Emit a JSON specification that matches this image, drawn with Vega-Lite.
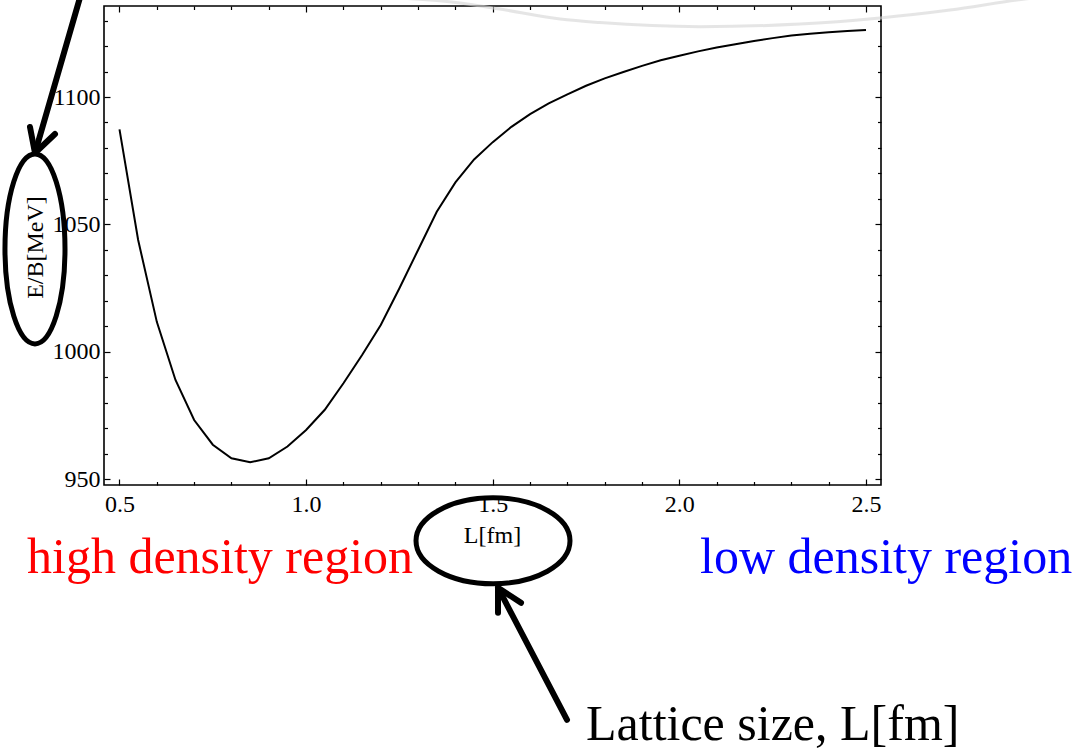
{
  "$schema": "https://vega.github.io/schema/vega-lite/v6.json",
  "width": 777,
  "height": 479,
  "autosize": {"type": "none"},
  "padding": {"left": 104, "top": 6, "right": 194, "bottom": 266},
  "background": "white",
  "config": {
    "view": {"stroke": "black", "strokeWidth": 1.6},
    "font": "Liberation Serif",
    "axis": {
      "labelFont": "Liberation Serif",
      "labelFontSize": 24,
      "labelColor": "black",
      "titleFont": "Liberation Serif",
      "titleFontSize": 24,
      "titleFontWeight": "normal",
      "titleColor": "black",
      "tickColor": "black",
      "tickWidth": 1.2,
      "grid": false,
      "domain": false
    }
  },
  "datasets": {
    "curve": [
      {"L": 0.5, "E": 1087.3}, {"L": 0.55, "E": 1043.9}, {"L": 0.6, "E": 1011.8},
      {"L": 0.65, "E": 989.0}, {"L": 0.7, "E": 973.3}, {"L": 0.75, "E": 963.6},
      {"L": 0.8, "E": 958.3}, {"L": 0.85, "E": 956.7}, {"L": 0.9, "E": 958.3},
      {"L": 0.95, "E": 962.9}, {"L": 1.0, "E": 969.4}, {"L": 1.05, "E": 977.3},
      {"L": 1.1, "E": 987.7}, {"L": 1.15, "E": 998.8}, {"L": 1.2, "E": 1010.6},
      {"L": 1.25, "E": 1025.0}, {"L": 1.3, "E": 1040.0}, {"L": 1.35, "E": 1055.0},
      {"L": 1.4, "E": 1066.5}, {"L": 1.45, "E": 1075.5}, {"L": 1.5, "E": 1082.3},
      {"L": 1.55, "E": 1088.3}, {"L": 1.6, "E": 1093.3}, {"L": 1.65, "E": 1097.5},
      {"L": 1.7, "E": 1101.0}, {"L": 1.75, "E": 1104.4}, {"L": 1.8, "E": 1107.3},
      {"L": 1.85, "E": 1109.8}, {"L": 1.9, "E": 1112.2}, {"L": 1.95, "E": 1114.4},
      {"L": 2.0, "E": 1116.2}, {"L": 2.05, "E": 1117.9}, {"L": 2.1, "E": 1119.4},
      {"L": 2.15, "E": 1120.7}, {"L": 2.2, "E": 1122.0}, {"L": 2.25, "E": 1123.1},
      {"L": 2.3, "E": 1124.1}, {"L": 2.35, "E": 1124.8}, {"L": 2.4, "E": 1125.4},
      {"L": 2.45, "E": 1125.9}, {"L": 2.5, "E": 1126.3}
    ],
    "arc": [
      {"i": 0, "L": 1.198, "E": 1139.2}, {"i": 1, "L": 1.4123, "E": 1136.9},
      {"i": 2, "L": 1.5194, "E": 1134.5}, {"i": 3, "L": 1.6802, "E": 1130.6},
      {"i": 4, "L": 1.7874, "E": 1129.2}, {"i": 5, "L": 2.0553, "E": 1127.6},
      {"i": 6, "L": 2.3232, "E": 1128.6}, {"i": 7, "L": 2.5375, "E": 1131.0},
      {"i": 8, "L": 2.725, "E": 1134.1}, {"i": 9, "L": 2.9046, "E": 1138.05},
      {"i": 10, "L": 2.966, "E": 1139.2}
    ],
    "arrows": [
      {"g": "a1s", "i": 0, "L": 0.3969, "E": 1140.4},
      {"g": "a1s", "i": 1, "L": 0.2736, "E": 1078.05},
      {"g": "a1h", "i": 0, "L": 0.2602, "E": 1088.25},
      {"g": "a1h", "i": 1, "L": 0.2736, "E": 1078.05},
      {"g": "a1h", "i": 2, "L": 0.3272, "E": 1085.5},
      {"g": "a2s", "i": 0, "L": 1.699, "E": 855.7},
      {"g": "a2s", "i": 1, "L": 1.5141, "E": 907.5},
      {"g": "a2h", "i": 0, "L": 1.5141, "E": 897.7},
      {"g": "a2h", "i": 1, "L": 1.5141, "E": 907.5},
      {"g": "a2h", "i": 2, "L": 1.5757, "E": 901.6}
    ],
    "ellipseY": [{"L": 0.2736, "E": 1040.4}],
    "ellipseX": [{"L": 1.5007, "E": 925.9}],
    "notes": [
      {"text": "high density region", "L": 0.2522, "E": 913.3},
      {"text": "low density region", "L": 2.0553, "E": 913.3},
      {"text": "Lattice size, L[fm]", "L": 1.7499, "E": 847.9}
    ]
  },
  "layer": [
    {
      "data": {"name": "curve"},
      "mark": {"type": "line", "color": "black", "strokeWidth": 2},
      "encoding": {
        "x": {
          "field": "L", "type": "quantitative",
          "scale": {"domain": [0.4585, 2.5402], "nice": false, "zero": false},
          "axis": {
            "orient": "bottom",
            "values": [0.5, 0.6, 0.7, 0.8, 0.9, 1.0, 1.1, 1.2, 1.3, 1.4, 1.5, 1.6, 1.7, 1.8, 1.9, 2.0, 2.1, 2.2, 2.3, 2.4, 2.5],
            "labelExpr": "round(datum.value*10) % 5 === 0 ? format(datum.value, '.1f') : ''",
            "tickSize": {"condition": {"test": "round(datum.value*10) % 5 === 0", "value": -6}, "value": -3.5},
            "labelPadding": 13,
            "labelFlush": false,
            "labelOverlap": false,
            "title": "L[fm]",
            "titleX": 388,
            "titleY": 57,
            "titleBaseline": "alphabetic",
            "titleAlign": "center"
          }
        },
        "y": {
          "field": "E", "type": "quantitative",
          "scale": {"domain": [947.8, 1135.7], "nice": false, "zero": false},
          "axis": {
            "orient": "left",
            "values": [950, 960, 970, 980, 990, 1000, 1010, 1020, 1030, 1040, 1050, 1060, 1070, 1080, 1090, 1100, 1110, 1120, 1130],
            "labelExpr": "datum.value % 50 === 0 ? format(datum.value, 'd') : ''",
            "tickSize": {"condition": {"test": "datum.value % 50 === 0", "value": -6}, "value": -3.5},
            "labelPadding": 10,
            "labelFlush": false,
            "labelOverlap": false,
            "title": "E/B[MeV]",
            "titleAngle": -90,
            "titleX": -69,
            "titleY": 241,
            "titleBaseline": "middle",
            "titleAlign": "center"
          }
        }
      }
    },
    {
      "data": {"name": "curve"},
      "mark": {"type": "line", "opacity": 0},
      "encoding": {
        "x": {
          "field": "L", "type": "quantitative",
          "scale": {"domain": [0.4585, 2.5402], "nice": false, "zero": false},
          "axis": {
            "orient": "top",
            "values": [0.5, 0.6, 0.7, 0.8, 0.9, 1.0, 1.1, 1.2, 1.3, 1.4, 1.5, 1.6, 1.7, 1.8, 1.9, 2.0, 2.1, 2.2, 2.3, 2.4, 2.5],
            "labels": false,
            "title": null,
            "tickSize": {"condition": {"test": "round(datum.value*10) % 5 === 0", "value": -6}, "value": -3.5}
          }
        },
        "y": {
          "field": "E", "type": "quantitative",
          "scale": {"domain": [947.8, 1135.7], "nice": false, "zero": false},
          "axis": {
            "orient": "right",
            "values": [950, 960, 970, 980, 990, 1000, 1010, 1020, 1030, 1040, 1050, 1060, 1070, 1080, 1090, 1100, 1110, 1120, 1130],
            "labels": false,
            "title": null,
            "tickSize": {"condition": {"test": "datum.value % 50 === 0", "value": -6}, "value": -3.5}
          }
        }
      }
    },
    {
      "data": {"name": "arc"},
      "mark": {"type": "line", "color": "#d4d4d4", "strokeWidth": 3, "opacity": 0.6, "interpolate": "monotone"},
      "encoding": {
        "x": {"field": "L", "type": "quantitative", "scale": {"domain": [0.4585, 2.5402], "nice": false, "zero": false}, "axis": null},
        "y": {"field": "E", "type": "quantitative", "scale": {"domain": [947.8, 1135.7], "nice": false, "zero": false}, "axis": null},
        "order": {"field": "i"}
      }
    },
    {
      "data": {"name": "arrows"},
      "mark": {"type": "line", "color": "black", "strokeWidth": 6, "strokeCap": "round", "strokeJoin": "round"},
      "encoding": {
        "x": {"field": "L", "type": "quantitative", "scale": {"domain": [0.4585, 2.5402], "nice": false, "zero": false}, "axis": null},
        "y": {"field": "E", "type": "quantitative", "scale": {"domain": [947.8, 1135.7], "nice": false, "zero": false}, "axis": null},
        "detail": {"field": "g"},
        "order": {"field": "i"}
      }
    },
    {
      "data": {"name": "ellipseY"},
      "mark": {
        "type": "point", "filled": false, "stroke": "black", "strokeWidth": 5, "opacity": 1,
        "size": 36100,
        "shape": "M 0 -1 C 0.1745 -1 0.316 -0.5523 0.316 0 C 0.316 0.5523 0.1745 1 0 1 C -0.1745 1 -0.316 0.5523 -0.316 0 C -0.316 -0.5523 -0.1745 -1 0 -1 Z"
      },
      "encoding": {
        "x": {"field": "L", "type": "quantitative", "scale": {"domain": [0.4585, 2.5402], "nice": false, "zero": false}, "axis": null},
        "y": {"field": "E", "type": "quantitative", "scale": {"domain": [947.8, 1135.7], "nice": false, "zero": false}, "axis": null}
      }
    },
    {
      "data": {"name": "ellipseX"},
      "mark": {
        "type": "point", "filled": false, "stroke": "black", "strokeWidth": 5, "opacity": 1,
        "size": 23716,
        "shape": "M -1 0 C -1 -0.3082 -0.5523 -0.558 0 -0.558 C 0.5523 -0.558 1 -0.3082 1 0 C 1 0.3082 0.5523 0.558 0 0.558 C -0.5523 0.558 -1 0.3082 -1 0 Z"
      },
      "encoding": {
        "x": {"field": "L", "type": "quantitative", "scale": {"domain": [0.4585, 2.5402], "nice": false, "zero": false}, "axis": null},
        "y": {"field": "E", "type": "quantitative", "scale": {"domain": [947.8, 1135.7], "nice": false, "zero": false}, "axis": null}
      }
    },
    {
      "data": {"name": "notes"},
      "mark": {"type": "text", "font": "Liberation Serif", "fontSize": 50, "align": "left", "baseline": "alphabetic"},
      "encoding": {
        "x": {"field": "L", "type": "quantitative", "scale": {"domain": [0.4585, 2.5402], "nice": false, "zero": false}, "axis": null},
        "y": {"field": "E", "type": "quantitative", "scale": {"domain": [947.8, 1135.7], "nice": false, "zero": false}, "axis": null},
        "text": {"field": "text"},
        "color": {
          "field": "text", "type": "nominal", "legend": null,
          "scale": {"domain": ["high density region", "low density region", "Lattice size, L[fm]"], "range": ["#ff0000", "#0000ff", "#000000"]}
        }
      }
    }
  ],
  "resolve": {"axis": {"x": "independent", "y": "independent"}}
}
